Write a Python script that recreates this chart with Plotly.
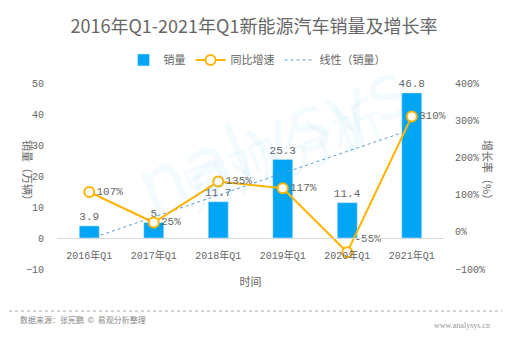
import numpy as np
import plotly.graph_objects as go

categories = ["2016年Q1", "2017年Q1", "2018年Q1", "2019年Q1", "2020年Q1", "2021年Q1"]
sales = [3.9, 5, 11.7, 25.3, 11.4, 46.8]
growth = [107, 25, 135, 117, -55, 310]
sales_labels = ["3.9", "5", "11.7", "25.3", "11.4", "46.8"]
growth_labels = ["107%", "25%", "135%", "117%", "-55%", "310%"]
growth_label_pos = ["middle right", "middle right", "middle right", "middle right", "top right", "middle right"]

# linear trend of sales (as the chart's "线性（销量）")
xi = np.arange(len(sales))
k, b0 = np.polyfit(xi, sales, 1)
trend = list(k * xi + b0)

FONT = "Liberation Mono, Noto Sans CJK SC, sans-serif"
CJK = "Noto Sans CJK SC, sans-serif"
GRAY = "#666666"

fig = go.Figure()
fig.add_trace(go.Bar(
    x=categories, y=sales, name="销量", marker_color="#00A6F5", width=0.31,
    text=sales_labels, textposition="outside", cliponaxis=False, constraintext="none",
    textfont=dict(family=FONT, size=11, color=GRAY),
))
fig.add_trace(go.Scatter(
    x=categories, y=growth, name="同比增速", yaxis="y2",
    mode="lines+markers+text", text=growth_labels, textposition=growth_label_pos,
    textfont=dict(family=FONT, size=11, color=GRAY), cliponaxis=False,
    line=dict(color="#FFB400", width=2),
    marker=dict(size=10, color="white", line=dict(color="#FFB400", width=2)),
))
fig.add_trace(go.Scatter(
    x=categories, y=trend, name="线性（销量）", mode="lines",
    line=dict(color="#5B9BD5", width=1, dash="dot"),
))

# watermark
fig.add_annotation(x=0.5, y=0.66, xref="paper", yref="paper", showarrow=False,
                   text="<span style='color:rgba(255,150,40,0.07)'>a</span>nalysys",
                   textangle=-22, font=dict(family="DejaVu Sans", size=76, color="rgba(0,160,235,0.045)"))
fig.add_annotation(x=0.58, y=0.2, xref="paper", yref="paper", showarrow=False,
                   text="易观分析", textangle=-22,
                   font=dict(family=CJK, size=54, color="rgba(0,160,235,0.045)"))

fig.update_layout(
    width=528, height=354,
    margin=dict(l=57, r=84, t=83, b=85),
    paper_bgcolor="white", plot_bgcolor="white",
    title=dict(text="2016年Q1-2021年Q1新能源汽车销量及增长率", x=0.481, xanchor="center",
               y=0.924, yanchor="middle", xref="container", yref="container",
               font=dict(family=CJK, size=18, color=GRAY)),
    legend=dict(orientation="h", x=0.517, xanchor="center", y=1.124, yanchor="middle",
                font=dict(family=CJK, size=11, color=GRAY), itemwidth=30,
                bgcolor="rgba(0,0,0,0)"),
    showlegend=True,
    xaxis=dict(type="category", anchor="free", position=10 / 60,
               showline=True, linecolor="#D9D9D9", linewidth=1, ticks="",
               showgrid=False, ticklabelstandoff=8,
               tickfont=dict(family=FONT, size=10, color=GRAY),
               title=dict(text="时间", standoff=17, font=dict(family=CJK, size=11, color=GRAY))),
    yaxis=dict(range=[-10, 50], dtick=10, showgrid=False, zeroline=False, showline=False,
               tickfont=dict(family=FONT, size=10, color=GRAY), ticks="",
               ticklabelstandoff=12),
    yaxis2=dict(range=[-100, 400], dtick=100, overlaying="y", side="right",
                showgrid=False, zeroline=False, showline=False, ticksuffix="%",
                tickfont=dict(family=FONT, size=10, color=GRAY), ticks="",
                ticklabelstandoff=10),
)

# axis titles (rotated as in the reference)
fig.add_annotation(x=-0.1008, y=0.516, xref="paper", yref="paper", showarrow=False,
                   text="销量（万辆）", textangle=90, font=dict(family=CJK, size=11, color=GRAY))
fig.add_annotation(x=1.1395, y=0.516, xref="paper", yref="paper", showarrow=False,
                   text="增长率（%）", textangle=90, font=dict(family=CJK, size=11, color=GRAY))

# footer
fig.add_shape(type="line", xref="paper", yref="paper", x0=-0.124, x1=1.15, y0=-0.226, y1=-0.226,
              line=dict(color="#AAAAAA", width=1, dash="dot"))
fig.add_annotation(x=-0.1008, y=-0.312, xref="paper", yref="paper", showarrow=False,
                   xanchor="left", text="数据来源：张宪鹏  ©  易观分析整理",
                   font=dict(family=CJK, size=8, color="#888888"))
fig.add_annotation(x=1.124, y=-0.339, xref="paper", yref="paper", showarrow=False,
                   xanchor="right", text="www.analysys.cn",
                   font=dict(family="Liberation Serif", size=8, color="#999999"))

fig.write_html("out.html")
